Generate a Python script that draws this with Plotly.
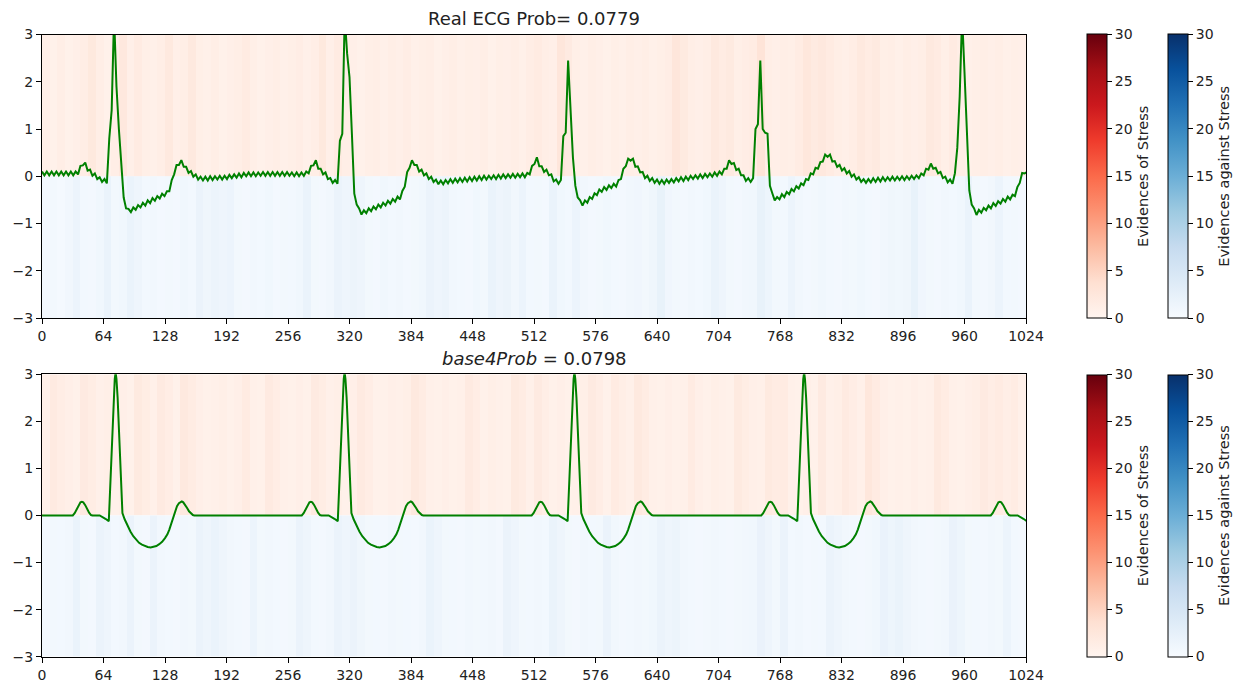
import plotly.graph_objects as go

# ---------------- data ----------------
# Real ECG, sampled every 2.5 samples from 0 to 1025
REAL_STEP = 2.5
REAL_ECG = [
    0.10, 0.02, 0.10, 0.02, 0.10, 0.02, 0.10, 0.02, 0.10, 0.02, 0.10, 0.02, 0.10, 0.02, 0.10, 0.04, 0.22, 0.23, 0.29, 0.12,
    0.14, 0.01, 0.06, -0.06, -0.02, -0.12, -0.06, -0.15, 0.80, 1.40, 3.40, 1.90, 1.00, 0.15, -0.45, -0.68, -0.69, -0.76, -0.66, -0.71,
    -0.61, -0.66, -0.56, -0.62, -0.51, -0.57, -0.46, -0.52, -0.42, -0.47, -0.37, -0.42, -0.32, -0.32, -0.08, 0.04, 0.24, 0.24, 0.34, 0.20,
    0.20, 0.07, 0.11, -0.01, 0.04, -0.07, -0.01, -0.09, -0.01, -0.09, 0.00, -0.08, 0.00, -0.07, 0.01, -0.07, 0.01, -0.06, 0.03, -0.04,
    0.04, -0.03, 0.06, -0.02, 0.07, 0.00, 0.08, 0.00, 0.08, 0.00, 0.08, 0.01, 0.09, 0.01, 0.09, 0.01, 0.09, 0.01, 0.09, 0.01,
    0.09, 0.01, 0.09, 0.01, 0.08, 0.00, 0.08, 0.00, 0.08, 0.01, 0.10, 0.06, 0.22, 0.23, 0.34, 0.16, 0.16, 0.04, 0.08, -0.06,
    -0.04, -0.14, -0.08, -0.16, 0.75, 0.90, 3.40, 2.60, 2.10, 0.90, -0.37, -0.60, -0.68, -0.81, -0.72, -0.78, -0.68, -0.74, -0.64, -0.70,
    -0.60, -0.66, -0.56, -0.62, -0.52, -0.58, -0.48, -0.54, -0.43, -0.49, -0.31, -0.22, 0.09, 0.18, 0.34, 0.24, 0.24, 0.10, 0.14, 0.02,
    0.06, -0.06, -0.01, -0.12, -0.07, -0.17, -0.09, -0.17, -0.08, -0.15, -0.06, -0.14, -0.05, -0.13, -0.04, -0.12, -0.03, -0.11, -0.02, -0.10,
    -0.01, -0.09, 0.00, -0.08, 0.01, -0.07, 0.01, -0.06, 0.02, -0.06, 0.03, -0.05, 0.04, -0.04, 0.04, -0.03, 0.05, -0.03, 0.05, -0.02,
    0.06, -0.02, 0.07, 0.04, 0.22, 0.26, 0.40, 0.21, 0.21, 0.09, 0.14, 0.02, 0.04, -0.11, -0.07, -0.16, -0.08, 0.85, 0.92, 2.45,
    1.25, 0.40, -0.20, -0.45, -0.51, -0.62, -0.51, -0.56, -0.44, -0.48, -0.36, -0.40, -0.28, -0.33, -0.23, -0.29, -0.19, -0.25, -0.16, -0.22,
    -0.08, -0.06, 0.16, 0.21, 0.37, 0.33, 0.37, 0.20, 0.21, 0.08, 0.09, -0.04, 0.01, -0.10, -0.04, -0.14, -0.07, -0.16, -0.08, -0.16,
    -0.07, -0.14, -0.06, -0.13, -0.04, -0.11, -0.02, -0.10, -0.01, -0.08, 0.01, -0.06, 0.02, -0.05, 0.04, -0.04, 0.05, -0.02, 0.06, -0.01,
    0.08, 0.01, 0.10, 0.04, 0.16, 0.16, 0.34, 0.26, 0.28, 0.13, 0.16, 0.02, 0.02, -0.10, -0.04, -0.12, -0.04, 1.00, 1.10, 2.45,
    1.00, 0.92, 0.90, -0.20, -0.36, -0.51, -0.44, -0.49, -0.38, -0.44, -0.33, -0.38, -0.27, -0.32, -0.21, -0.26, -0.15, -0.19, -0.06, -0.08,
    0.06, 0.04, 0.18, 0.16, 0.30, 0.31, 0.46, 0.41, 0.46, 0.31, 0.32, 0.20, 0.24, 0.12, 0.17, 0.06, 0.11, -0.01, 0.04, -0.07,
    -0.02, -0.12, -0.06, -0.14, -0.06, -0.13, -0.04, -0.12, -0.03, -0.11, -0.02, -0.10, -0.02, -0.09, -0.01, -0.09, -0.01, -0.08, 0.00, -0.08,
    0.00, -0.07, 0.01, -0.06, 0.02, -0.04, 0.06, 0.02, 0.16, 0.14, 0.27, 0.16, 0.18, 0.06, 0.09, -0.04, -0.01, -0.13, -0.07, -0.16,
    0.06, 0.60, 1.70, 3.40, 2.20, 0.85, -0.30, -0.60, -0.68, -0.82, -0.71, -0.77, -0.67, -0.72, -0.62, -0.68, -0.57, -0.63, -0.53, -0.58,
    -0.48, -0.54, -0.43, -0.49, -0.39, -0.42, -0.23, -0.14, 0.07, 0.06, 0.09,
]

# base4 reconstruction: (sample, value) points
BASE4_POINTS = [
    (0, 0),
    # beat 1
    (32, 0), (34, 0.05), (36, 0.13), (38, 0.22), (40, 0.28), (41.5, 0.29), (43, 0.28), (45, 0.22), (47, 0.13),
    (49, 0.06), (51, 0.01), (52.5, 0), (60, 0), (63, -0.03), (66, -0.07), (69.5, -0.12), (71, 0.6), (73, 1.7),
    (74.5, 2.5), (75.7, 2.9), (76.6, 3.04), (77.5, 2.9), (78.7, 2.5), (80.5, 1.5), (82.5, 0.5), (83.7, 0.05),
    (86, -0.08), (89, -0.22), (92, -0.34), (95, -0.44), (98, -0.52), (101, -0.58), (104, -0.62), (107, -0.65),
    (110, -0.67), (113, -0.68), (116, -0.67), (119, -0.65), (122, -0.61), (125, -0.56), (128, -0.48), (130.5, -0.4),
    (132.5, -0.3), (134.5, -0.17), (136.5, -0.03), (138.5, 0.1), (140.5, 0.2), (142.5, 0.26), (144, 0.29),
    (145.5, 0.3), (147, 0.28), (149, 0.23), (151, 0.16), (153, 0.09), (155, 0.04), (157, 0.01), (158.5, 0),
    # beat 2
    (270.3, 0), (272.3, 0.05), (274.3, 0.13), (276.3, 0.22), (278.3, 0.28), (279.8, 0.29), (281.3, 0.28), (283.3, 0.22),
    (285.3, 0.13), (287.3, 0.06), (289.3, 0.01), (290.8, 0), (298.3, 0), (301.3, -0.03), (304.3, -0.07), (307.8, -0.12),
    (309.3, 0.6), (311.3, 1.7), (312.8, 2.5), (314.0, 2.9), (314.9, 3.04), (315.8, 2.9), (317.0, 2.5), (318.8, 1.5),
    (320.8, 0.5), (322.0, 0.05), (324.3, -0.08), (327.3, -0.22), (330.3, -0.34), (333.3, -0.44), (336.3, -0.52),
    (339.3, -0.58), (342.3, -0.62), (345.3, -0.65), (348.3, -0.67), (351.3, -0.68), (354.3, -0.67), (357.3, -0.65),
    (360.3, -0.61), (363.3, -0.56), (366.3, -0.48), (368.8, -0.4), (370.8, -0.3), (372.8, -0.17), (374.8, -0.03),
    (376.8, 0.1), (378.8, 0.2), (380.8, 0.26), (382.3, 0.29), (383.8, 0.3), (385.3, 0.28), (387.3, 0.23),
    (389.3, 0.16), (391.3, 0.09), (393.3, 0.04), (395.3, 0.01), (396.8, 0),
    # beat 3
    (509.5, 0), (511.5, 0.05), (513.5, 0.13), (515.5, 0.22), (517.5, 0.28), (519, 0.29), (520.5, 0.28), (522.5, 0.22),
    (524.5, 0.13), (526.5, 0.06), (528.5, 0.01), (530, 0), (537.5, 0), (540.5, -0.03), (543.5, -0.07), (547, -0.12),
    (548.5, 0.6), (550.5, 1.7), (552, 2.5), (553.2, 2.9), (554.1, 3.04), (555, 2.9), (556.2, 2.5), (558, 1.5),
    (560, 0.5), (561.2, 0.05), (563.5, -0.08), (566.5, -0.22), (569.5, -0.34), (572.5, -0.44), (575.5, -0.52),
    (578.5, -0.58), (581.5, -0.62), (584.5, -0.65), (587.5, -0.67), (590.5, -0.68), (593.5, -0.67), (596.5, -0.65),
    (599.5, -0.61), (602.5, -0.56), (605.5, -0.48), (608, -0.4), (610, -0.3), (612, -0.17), (614, -0.03),
    (616, 0.1), (618, 0.2), (620, 0.26), (621.5, 0.29), (623, 0.3), (624.5, 0.28), (626.5, 0.23),
    (628.5, 0.16), (630.5, 0.09), (632.5, 0.04), (634.5, 0.01), (636, 0),
    # beat 4
    (748.5, 0), (750.5, 0.05), (752.5, 0.13), (754.5, 0.22), (756.5, 0.28), (758, 0.29), (759.5, 0.28), (761.5, 0.22),
    (763.5, 0.13), (765.5, 0.06), (767.5, 0.01), (769, 0), (776.5, 0), (779.5, -0.03), (782.5, -0.07), (786, -0.12),
    (787.5, 0.6), (789.5, 1.7), (791, 2.5), (792.2, 2.9), (793.1, 3.04), (794, 2.9), (795.2, 2.5), (797, 1.5),
    (799, 0.5), (800.2, 0.05), (802.5, -0.08), (805.5, -0.22), (808.5, -0.34), (811.5, -0.44), (814.5, -0.52),
    (817.5, -0.58), (820.5, -0.62), (823.5, -0.65), (826.5, -0.67), (829.5, -0.68), (832.5, -0.67), (835.5, -0.65),
    (838.5, -0.61), (841.5, -0.56), (844.5, -0.48), (847, -0.4), (849, -0.3), (851, -0.17), (853, -0.03),
    (855, 0.1), (857, 0.2), (859, 0.26), (860.5, 0.29), (862, 0.3), (863.5, 0.28), (865.5, 0.23),
    (867.5, 0.16), (869.5, 0.09), (871.5, 0.04), (873.5, 0.01), (875, 0),
    # beat 5 (P wave only)
    (987.3, 0), (989.3, 0.05), (991.3, 0.13), (993.3, 0.22), (995.3, 0.28), (996.8, 0.29), (998.3, 0.28), (1000.3, 0.22),
    (1002.3, 0.13), (1004.3, 0.06), (1006.3, 0.01), (1007.8, 0), (1015.3, 0), (1018.3, -0.03), (1021.3, -0.07), (1024.8, -0.12),
]

# evidence stripes, 128 bins of 8 samples each
BIN_WIDTH = 8
TOP_STRESS = [
    1.0, 0.8, 1.2, 0.7, 1.0, 1.4, 2.2, 1.2, 0.8, 1.3, 2.3, 1.0, 1.8, 1.1, 0.9, 1.2,
    2.1, 1.0, 1.3, 2.1, 1.1, 0.9, 1.2, 0.8, 1.0, 1.3, 1.8, 1.1, 0.8, 1.0, 1.2, 0.9,
    1.1, 1.4, 0.9, 1.2, 2.2, 1.0, 1.8, 1.3, 1.0, 0.8, 1.1, 1.3, 0.9, 1.2, 1.0, 1.4,
    0.9, 1.1, 1.3, 0.8, 1.0, 1.2, 0.9, 1.1, 1.0, 1.3, 0.8, 1.1, 1.0, 1.2, 0.9, 1.4,
    1.8, 1.3, 1.0, 2.6, 1.9, 1.1, 0.9, 1.2, 1.0, 0.8, 1.1, 0.9, 1.2, 1.0, 1.3, 0.9,
    1.1, 1.4, 2.6, 2.0, 1.2, 1.0, 1.3, 2.1, 1.6, 2.0, 1.1, 1.4, 1.6, 3.0, 1.2, 1.0,
    1.3, 1.1, 1.6, 2.5, 1.9, 2.3, 1.7, 1.2, 1.0, 1.4, 2.1, 1.6, 2.0, 1.1, 1.3, 0.9,
    1.2, 1.0, 1.3, 2.1, 1.7, 1.1, 1.8, 1.2, 0.9, 1.1, 1.3, 1.0, 1.2, 0.9, 1.1, 1.0,
]
TOP_AGAINST = [
    0.6, 0.8, 0.5, 0.9, 1.6, 0.7, 0.6, 1.0, 1.9, 0.8, 1.0, 1.9, 1.3, 0.7, 0.9, 0.6,
    0.8, 0.6, 1.0, 0.7, 1.8, 1.2, 1.7, 1.3, 1.6, 0.8, 0.6, 0.9, 0.7, 1.0, 0.6, 0.8,
    0.7, 1.0, 1.9, 0.8, 0.6, 0.9, 1.8, 1.3, 1.7, 1.4, 0.8, 0.6, 1.0, 0.7, 0.9, 0.6,
    0.8, 1.0, 1.8, 1.3, 1.7, 0.9, 0.7, 0.6, 1.0, 0.8, 1.9, 1.3, 1.7, 0.9, 1.6, 0.7,
    0.8, 0.6, 1.9, 1.0, 0.7, 1.6, 0.9, 0.6, 0.8, 1.0, 0.7, 0.6, 0.9, 1.1, 0.8, 1.2,
    2.2, 1.1, 0.8, 0.6, 0.9, 0.7, 1.0, 1.9, 1.4, 0.8, 0.6, 0.9, 1.0, 2.2, 1.5, 0.8,
    0.7, 1.6, 0.9, 0.6, 0.8, 1.0, 0.7, 0.6, 0.9, 0.8, 1.0, 0.7, 0.6, 0.9, 1.2, 1.0,
    1.2, 2.2, 1.1, 0.8, 0.6, 0.9, 0.7, 1.0, 1.9, 0.8, 0.6, 0.9, 1.6, 0.7, 0.8, 0.6,
]
BOT_STRESS = [
    0.8, 1.9, 1.4, 1.0, 0.7, 1.9, 1.5, 0.9, 1.1, 0.7, 1.0, 0.8, 2.0, 1.5, 0.9, 1.9,
    1.4, 0.8, 2.1, 1.6, 1.0, 0.7, 0.9, 1.1, 0.8, 1.0, 1.7, 0.9, 0.7, 1.9, 1.4, 0.9,
    0.8, 1.0, 0.7, 1.9, 1.5, 0.9, 1.1, 0.8, 1.0, 1.9, 1.4, 0.8, 0.7, 1.0, 0.9, 1.1,
    2.1, 1.6, 0.9, 0.8, 1.0, 0.7, 0.9, 1.9, 1.4, 0.8, 1.1, 0.9, 0.7, 2.0, 1.6, 0.9,
    1.9, 1.3, 0.8, 1.0, 0.7, 0.9, 1.1, 1.9, 1.4, 0.8, 1.7, 1.3, 0.9, 2.1, 1.6, 0.9,
    0.8, 1.0, 0.7, 0.9, 1.7, 1.0, 0.8, 1.1, 0.9, 0.7, 2.0, 1.5, 1.0, 0.9, 2.0, 1.6,
    1.8, 0.9, 0.8, 1.0, 0.7, 1.9, 0.9, 1.1, 1.9, 1.4, 0.9, 2.5, 1.8, 1.0, 0.8, 0.9,
    0.7, 1.0, 0.8, 0.9, 2.1, 1.6, 0.9, 0.8, 1.0, 1.2, 1.9, 1.4, 1.8, 1.3, 1.6, 0.9,
]
BOT_AGAINST = [
    0.6, 0.8, 0.7, 0.9, 1.9, 0.8, 0.6, 1.8, 1.4, 0.7, 0.9, 1.8, 0.8, 0.6, 1.8, 0.9,
    0.7, 0.6, 0.9, 0.8, 1.8, 1.3, 1.9, 1.4, 0.9, 0.7, 0.6, 1.6, 0.8, 0.9, 0.7, 0.6,
    0.8, 1.8, 1.3, 0.7, 0.6, 0.9, 1.8, 1.3, 1.8, 1.2, 0.8, 0.7, 0.6, 0.9, 0.8, 0.7,
    0.6, 0.9, 1.9, 1.4, 0.8, 0.7, 0.6, 0.9, 0.8, 0.7, 0.9, 0.6, 1.8, 1.3, 0.8, 0.7,
    0.9, 0.7, 1.9, 1.4, 0.8, 0.6, 0.9, 0.7, 0.8, 1.8, 0.9, 0.6, 0.7, 0.9, 0.8, 1.0,
    1.8, 1.3, 1.7, 0.9, 0.7, 0.6, 0.8, 0.9, 0.7, 0.6, 0.8, 0.9, 1.0, 2.0, 1.4, 0.8,
    1.8, 0.7, 0.9, 0.6, 0.8, 0.7, 1.8, 1.3, 0.9, 0.7, 0.6, 0.8, 1.0, 2.0, 1.5, 1.9,
    1.4, 0.9, 0.7, 0.6, 0.8, 0.9, 2.0, 1.5, 0.8, 0.7, 0.6, 0.9, 0.8, 1.6, 0.7, 0.6,
]

X_TICKS = list(range(0, 1025, 64))
Y_TICKS = [-3, -2, -1, 0, 1, 2, 3]
CB_TICKS = [0, 5, 10, 15, 20, 25, 30]
TITLE_TOP = "Real ECG Prob= 0.0779"
TITLE_BOT = "<i>base4Prob</i> = 0.0798"
CB_STRESS = "Evidences of Stress"
CB_AGAINST = "Evidences against Stress"

REDS = [[0, '#fff5f0'], [0.125, '#fee0d2'], [0.25, '#fcbba1'], [0.375, '#fc9272'], [0.5, '#fb6a4a'],
        [0.625, '#ef3b2c'], [0.75, '#cb181d'], [0.875, '#a50f15'], [1, '#67000d']]
BLUES = [[0, '#f7fbff'], [0.125, '#deebf7'], [0.25, '#c6dbef'], [0.375, '#9ecae1'], [0.5, '#6baed6'],
         [0.625, '#4292c6'], [0.75, '#2171b5'], [0.875, '#08519c'], [1, '#08306b']]

# ---------------- layout geometry ----------------
W, H = 1245, 686
FONT = "DejaVu Sans"
X_DOM = [42 / W, 1026 / W]
TOP_PX = (34.5, 318.0)
BOT_PX = (374.3, 656.7)


def ydom(px):
    return [1 - px[1] / H, 1 - px[0] / H]


def cbar(x_px, row_px, title):
    yc = 1 - (row_px[0] + row_px[1]) / 2 / H
    return dict(
        x=x_px / W, xanchor='left', xpad=0,
        y=yc, yanchor='middle', ypad=0,
        len=(row_px[1] - row_px[0]) / H, lenmode='fraction',
        thickness=20, thicknessmode='pixels',
        outlinecolor='black', outlinewidth=1,
        ticks='outside', ticklen=5, tickcolor='black', tickwidth=1,
        tickprefix='\u00a0',
        tickvals=CB_TICKS, tickfont=dict(family=FONT, size=14, color='#222'),
        title=dict(text=title, side='right', font=dict(family=FONT, size=14.5, color='#222')),
    )


edges = [i * BIN_WIDTH for i in range(len(TOP_STRESS) + 1)]
real_x = [i * REAL_STEP for i in range(len(REAL_ECG))]
b4_x = [p[0] for p in BASE4_POINTS]
b4_y = [p[1] for p in BASE4_POINTS]

fig = go.Figure()

rows = [
    ('x', 'y', TOP_STRESS, TOP_AGAINST, real_x, REAL_ECG, TOP_PX),
    ('x2', 'y2', BOT_STRESS, BOT_AGAINST, b4_x, b4_y, BOT_PX),
]
for xa, ya, stress, against, lx, ly, rpx in rows:
    fig.add_trace(go.Heatmap(z=[stress], x=edges, y=[0, 3], zmin=0, zmax=30, colorscale=REDS,
                             xaxis=xa, yaxis=ya, colorbar=cbar(1087, rpx, CB_STRESS), hoverinfo='skip'))
    fig.add_trace(go.Heatmap(z=[against], x=edges, y=[-3, 0], zmin=0, zmax=30, colorscale=BLUES,
                             xaxis=xa, yaxis=ya, colorbar=cbar(1168, rpx, CB_AGAINST), hoverinfo='skip'))
    fig.add_trace(go.Scatter(x=lx, y=ly, mode='lines', line=dict(color='#008000', width=2),
                             xaxis=xa, yaxis=ya, showlegend=False, hoverinfo='skip'))

axis_common = dict(showline=True, mirror=True, linecolor='black', linewidth=1, showgrid=False,
                   zeroline=False, ticks='outside', ticklen=5, tickcolor='black', tickwidth=1,
                   tickfont=dict(family=FONT, size=14, color='#222'))

fig.update_layout(
    width=W, height=H,
    margin=dict(l=0, r=0, t=0, b=0, autoexpand=False),
    paper_bgcolor='white', plot_bgcolor='white',
    showlegend=False,
    font=dict(family=FONT, color='#222'),
    xaxis=dict(domain=X_DOM, range=[0, 1024], tickvals=X_TICKS, anchor='y', **axis_common),
    yaxis=dict(domain=ydom(TOP_PX), range=[-3, 3], tickvals=Y_TICKS, anchor='x', **axis_common),
    xaxis2=dict(domain=X_DOM, range=[0, 1024], tickvals=X_TICKS, anchor='y2', **axis_common),
    yaxis2=dict(domain=ydom(BOT_PX), range=[-3, 3], tickvals=Y_TICKS, anchor='x2', **axis_common),
    annotations=[
        dict(text=TITLE_TOP, x=(X_DOM[0] + X_DOM[1]) / 2, y=1 - 18 / H, xref='paper', yref='paper',
             xanchor='center', yanchor='middle', showarrow=False, font=dict(family=FONT, size=18, color='#222')),
        dict(text=TITLE_BOT, x=(X_DOM[0] + X_DOM[1]) / 2, y=1 - 358 / H, xref='paper', yref='paper',
             xanchor='center', yanchor='middle', showarrow=False, font=dict(family=FONT, size=18, color='#222')),
    ],
)

fig.write_html("out.html")
